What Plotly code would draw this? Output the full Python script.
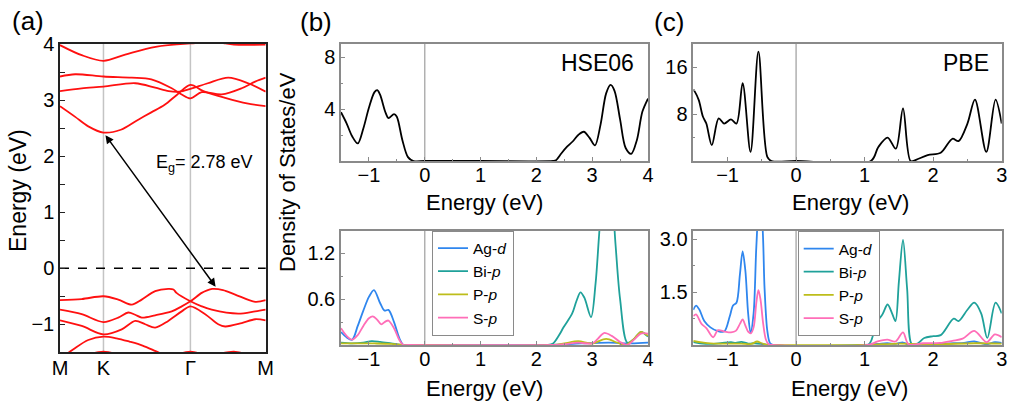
import plotly.graph_objects as go

W, H = 1009, 405
FONT = "Liberation Sans, Arial, sans-serif"

# ---------------- (a) band structure ----------------
KPATH_POS = [0.0, 1.0, 3.0, 4.732]
KPATH_LBL = ["M", "K", "Γ", "M"]

CB1_k = [0, 0.35, 0.65, 1.0, 1.4, 1.8, 2.1, 2.4, 2.7, 3.0, 3.3, 3.8, 4.3, 4.732]
CB1_E = [2.89, 2.70, 2.53, 2.42, 2.47, 2.65, 2.78, 2.91, 3.10, 3.27, 3.16, 3.04, 2.94, 2.89]
CB2_k = [0, 0.35, 1.0, 1.65, 2.1, 2.57, 2.8, 3.0, 3.26, 3.72, 4.18, 4.49, 4.732]
CB2_E = [3.42, 3.46, 3.42, 3.40, 3.37, 3.21, 3.10, 3.03, 3.14, 3.10, 3.21, 3.33, 3.40]
CB3_k = [0, 0.5, 1.0, 1.73, 2.19, 2.5, 2.75, 3.0, 3.4, 3.87, 4.33, 4.732]
CB3_E = [3.16, 3.21, 3.24, 3.30, 3.22, 3.16, 3.15, 3.20, 3.30, 3.40, 3.30, 3.15]
CB4_k = [0, 0.5, 1.0, 1.5, 2.2, 3.0, 3.6, 4.0, 4.732]
CB4_E = [3.98, 3.80, 3.70, 3.81, 3.95, 4.01, 4.03, 3.99, 3.99]

VB1_k = [0, 0.5, 1.0, 1.34, 1.65, 1.88, 2.19, 2.49, 2.61, 2.68, 3.0, 3.26, 3.49, 4.1, 4.49, 4.732]
VB1_E = [-0.57, -0.55, -0.50, -0.56, -0.65, -0.56, -0.41, -0.37, -0.38, -0.44, -0.59, -0.68, -0.74, -0.81, -0.77, -0.74]
VB2_k = [0, 0.5, 1.0, 1.34, 1.57, 1.73, 1.88, 2.19, 2.57, 2.8, 3.0, 3.26, 3.37, 3.5, 3.75, 4.03, 4.49, 4.732]
VB2_E = [-0.74, -0.82, -0.96, -0.88, -0.79, -0.83, -0.88, -0.84, -0.77, -0.68, -0.59, -0.44, -0.40, -0.37, -0.39, -0.47, -0.60, -0.57]
VB3_k = [0, 0.5, 1.0, 1.42, 1.73, 1.96, 2.19, 2.49, 2.8, 3.0, 3.34, 3.64, 3.8, 4.18, 4.49, 4.732]
VB3_E = [-0.93, -1.03, -1.18, -1.09, -0.94, -1.00, -1.06, -0.94, -0.77, -0.68, -0.82, -1.00, -1.04, -0.98, -0.91, -0.93]
VB4_k = [0, 0.3, 0.65, 1.0, 1.3, 1.6, 1.9, 2.2, 2.6, 3.0, 3.5, 4.2, 4.732]
VB4_E = [-1.62, -1.45, -1.28, -1.22, -1.25, -1.31, -1.38, -1.48, -1.62, -1.70, -1.70, -1.65, -1.62]
VB5_k = [0, 0.5, 1.0, 1.5, 2.0, 2.5, 3.0, 3.4, 4.0, 4.4, 4.732]
VB5_E = [-1.68, -1.57, -1.49, -1.57, -1.63, -1.58, -1.49, -1.56, -1.49, -1.56, -1.68]

BANDS = [(CB1_k, CB1_E), (CB2_k, CB2_E), (CB3_k, CB3_E), (CB4_k, CB4_E),
         (VB1_k, VB1_E), (VB2_k, VB2_E), (VB3_k, VB3_E), (VB4_k, VB4_E), (VB5_k, VB5_E)]
GAP_LABEL = "E<sub>g</sub>= 2.78 eV"

# ---------------- (b) HSE06 DOS ----------------
HSE_TOT_E = [-1.5, -1.4, -1.3, -1.2, -1.1, -1.0, -0.9, -0.85, -0.8, -0.7, -0.65, -0.55, -0.5, -0.4, -0.3, -0.2,
             0.0, 1.0, 2.3, 2.35, 2.45, 2.55, 2.65, 2.75, 2.85, 2.95, 3.05, 3.15, 3.25, 3.33, 3.4, 3.5, 3.6, 3.7,
             3.8, 3.9, 4.0]
HSE_TOT_V = [3.75, 2.9, 1.9, 1.35, 2.5, 4.1, 5.3, 5.45, 5.1, 3.7, 3.3, 3.6, 3.4, 1.6, 0.3, 0.0,
             0.0, 0.0, 0.0, 0.05, 0.6, 1.1, 1.5, 2.0, 2.25, 1.8, 1.2, 2.8, 5.2, 5.85, 5.4, 3.2, 1.0, 0.55,
             1.6, 3.8, 4.8]

HSE_AG_E = [-1.5, -1.4, -1.3, -1.2, -1.1, -1.0, -0.91, -0.8, -0.72, -0.65, -0.55, -0.45, -0.38, -0.3,
            2.2, 2.8, 3.3, 3.7, 4.0]
HSE_AG_V = [0.17, 0.10, 0.07, 0.25, 0.45, 0.63, 0.72, 0.55, 0.45, 0.46, 0.30, 0.08, 0.0, 0.0,
            0.0, 0.02, 0.03, 0.02, 0.03]
HSE_BI_E = [-1.5, -1.3, -1.1, -0.95, -0.8, -0.6, -0.4, -0.3, 2.2, 2.3, 2.4, 2.49, 2.64, 2.72, 2.79, 2.86,
            2.98, 3.06, 3.12, 3.18, 3.26, 3.34, 3.42, 3.5, 3.63, 3.75, 3.87, 4.0]
HSE_BI_V = [0.03, 0.02, 0.03, 0.05, 0.04, 0.02, 0.0, 0.0, 0.0, 0.02, 0.12, 0.235, 0.41, 0.58, 0.69, 0.62,
            0.365, 0.8, 1.4, 2.0, 2.4, 2.1, 1.3, 0.6, 0.03, 0.08, 0.17, 0.11]
HSE_P_E = [-1.5, -1.2, -0.9, -0.6, -0.4, -0.3, 2.3, 2.5, 2.75, 3.0, 3.25, 3.45, 3.6, 3.75, 3.87, 4.0]
HSE_P_V = [0.02, 0.02, 0.02, 0.015, 0.0, 0.0, 0.0, 0.02, 0.05, 0.02, 0.08, 0.03, 0.0, 0.08, 0.17, 0.12]
HSE_S_E = [-1.5, -1.4, -1.3, -1.2, -1.1, -1.0, -0.93, -0.85, -0.78, -0.7, -0.65, -0.55, -0.45, -0.38, -0.3,
           2.3, 2.5, 2.75, 3.0, 3.1, 3.21, 3.35, 3.5, 3.63, 3.75, 3.87, 4.0]
HSE_S_V = [0.22, 0.12, 0.07, 0.13, 0.25, 0.35, 0.375, 0.33, 0.27, 0.31, 0.32, 0.22, 0.06, 0.0, 0.0,
           0.0, 0.01, 0.03, 0.02, 0.08, 0.157, 0.12, 0.04, 0.0, 0.07, 0.15, 0.15]

# ---------------- (c) PBE DOS ----------------
PBE_TOT_E = [-1.5, -1.48, -1.42, -1.36, -1.31, -1.23, -1.13, -1.05, -0.95, -0.87, -0.78, -0.665, -0.55,
             -0.42, -0.36, 0.0, 1.09, 1.2, 1.335, 1.455, 1.56, 1.67, 1.75, 1.92, 2.11, 2.28, 2.37, 2.5,
             2.61, 2.775, 2.91, 3.0]
PBE_TOT_V = [12.2, 11.9, 10.4, 7.6, 6.4, 2.7, 7.3, 6.4, 7.1, 6.4, 13.3, 1.55, 18.7,
             0.7, 0.0, 0.0, 0.0, 2.4, 4.0, 2.1, 9.0, 0.0, 0.2, 1.0, 1.4, 3.8, 3.4, 6.4,
             10.5, 1.55, 10.5, 6.4]

PBE_AG_E = [-1.5, -1.46, -1.41, -1.34, -1.25, -1.15, -1.05, -0.97, -0.92, -0.87, -0.82, -0.78, -0.74,
            -0.70, -0.665, -0.62, -0.58, -0.54, -0.50, -0.46, -0.42, -0.38, -0.33,
            1.0, 1.2, 1.33, 1.45, 1.56, 1.65, 2.0, 2.3, 2.45, 2.6, 2.78, 2.9, 3.0]
PBE_AG_V = [1.0, 1.12, 1.0, 0.68, 0.5, 0.4, 0.38, 0.8, 1.12, 1.2, 2.0, 2.66, 2.1,
            0.9, 0.35, 0.9, 2.8, 3.9, 3.6, 1.6, 0.4, 0.05, 0.0,
            0.0, 0.03, 0.05, 0.03, 0.07, 0.0, 0.02, 0.05, 0.06, 0.1, 0.02, 0.08, 0.06]
PBE_BI_E = [-1.5, -1.4, -1.25, -1.1, -0.95, -0.88, -0.8, -0.7, -0.6, -0.5, -0.4, -0.35,
            1.05, 1.16, 1.26, 1.335, 1.4, 1.45, 1.5, 1.56, 1.62, 1.69, 1.78, 1.87, 2.0, 2.11, 2.3,
            2.37, 2.5, 2.6, 2.7, 2.79, 2.91, 3.0]
PBE_BI_V = [0.08, 0.05, 0.03, 0.05, 0.08, 0.06, 0.09, 0.04, 0.05, 0.03, 0.0, 0.0,
            0.0, 0.59, 0.87, 1.15, 0.9, 0.68, 1.8, 2.98, 1.6, 0.02, 0.05, 0.2, 0.25, 0.28, 0.75,
            0.68, 1.0, 1.2, 0.9, 0.2, 1.2, 0.9]
PBE_P_E = [-1.5, -1.4, -1.2, -1.0, -0.8, -0.65, -0.57, -0.5, -0.4, -0.35, 1.0, 1.5, 2.0, 2.6, 3.0]
PBE_P_V = [0.12, 0.08, 0.04, 0.04, 0.04, 0.03, 0.1, 0.05, 0.0, 0.0, 0.0, 0.04, 0.02, 0.05, 0.04]
PBE_S_E = [-1.5, -1.46, -1.38, -1.31, -1.21, -1.14, -1.04, -0.95, -0.88, -0.82, -0.78, -0.74, -0.70,
           -0.66, -0.62, -0.58, -0.55, -0.52, -0.48, -0.44, -0.40, -0.35,
           1.05, 1.19, 1.33, 1.45, 1.56, 1.64, 1.85, 2.1, 2.28, 2.43, 2.6, 2.78, 2.9, 3.0]
PBE_S_V = [0.82, 0.87, 0.6, 0.48, 0.22, 0.42, 0.38, 0.36, 0.4, 0.6, 0.73, 0.55, 0.38,
           0.33, 0.5, 1.2, 1.56, 1.3, 0.6, 0.15, 0.02, 0.0,
           0.0, 0.1, 0.15, 0.1, 0.36, 0.02, 0.05, 0.06, 0.12, 0.18, 0.4, 0.08, 0.3, 0.22]

ORBITALS = ["Ag-<i>d</i>", "Bi-<i>p</i>", "P-<i>p</i>", "S-<i>p</i>"]
COLORS = ["#2F86EE", "#1FA19A", "#BDBD1A", "#FF6EB8"]

# ---------------- figure ----------------
def px(xp):
    return xp / W

def py(yp):
    return 1 - yp / H

fig = go.Figure()

for k, e in BANDS:
    fig.add_trace(go.Scatter(x=k, y=e, mode="lines", xaxis="x", yaxis="y",
                             line=dict(color="#FF1010", width=1.8, shape="spline", smoothing=0.9),
                             showlegend=False, hoverinfo="skip"))

fig.add_trace(go.Scatter(x=HSE_TOT_E, y=HSE_TOT_V, mode="lines", xaxis="x2", yaxis="y2",
                         line=dict(color="black", width=1.8, shape="spline", smoothing=0.9),
                         showlegend=False))
fig.add_trace(go.Scatter(x=PBE_TOT_E, y=PBE_TOT_V, mode="lines", xaxis="x4", yaxis="y4",
                         line=dict(color="black", width=1.8, shape="spline", smoothing=0.9),
                         showlegend=False))

hse_p = [(HSE_AG_E, HSE_AG_V), (HSE_BI_E, HSE_BI_V), (HSE_P_E, HSE_P_V), (HSE_S_E, HSE_S_V)]
pbe_p = [(PBE_AG_E, PBE_AG_V), (PBE_BI_E, PBE_BI_V), (PBE_P_E, PBE_P_V), (PBE_S_E, PBE_S_V)]
for i, (e, v) in enumerate(hse_p):
    fig.add_trace(go.Scatter(x=e, y=v, mode="lines", xaxis="x3", yaxis="y3", name=ORBITALS[i],
                             line=dict(color=COLORS[i], width=1.8, shape="spline", smoothing=0.9),
                             legend="legend"))
for i, (e, v) in enumerate(pbe_p):
    fig.add_trace(go.Scatter(x=e, y=v, mode="lines", xaxis="x5", yaxis="y5", name=ORBITALS[i],
                             line=dict(color=COLORS[i], width=1.8, shape="spline", smoothing=0.9),
                             legend="legend2"))

TICKF = dict(family=FONT, size=20, color="black")
GRAY = "#8a8a8a"

def dos_x(domain, rng, anchor):
    return dict(domain=domain, range=rng, anchor=anchor, showline=True, mirror=True, linecolor=GRAY,
                linewidth=1.5, ticks="inside", tickcolor=GRAY, ticklen=4, dtick=1, tick0=0,
                minor=dict(dtick=0.5, ticks="inside", ticklen=2, tickcolor=GRAY),
                showgrid=False, zeroline=False, tickfont=TICKF, ticklabelstandoff=-5)

def dos_y(domain, rng, anchor, vals, mdt, fmt):
    return dict(domain=domain, range=rng, anchor=anchor, showline=True, mirror=True, linecolor=GRAY,
                linewidth=1.5, ticks="inside", tickcolor=GRAY, ticklen=4, tickvals=vals,
                minor=dict(dtick=mdt, tick0=0, ticks="inside", ticklen=2, tickcolor=GRAY),
                showgrid=False, zeroline=False, tickfont=TICKF, tickformat=fmt)

xa_b = [px(341), px(648)]
xa_c = [px(693.3), px(1001.7)]
ya_top = [py(161), py(44)]
ya_bot = [py(345), py(230.5)]

LEGF = dict(family=FONT, size=15.5)

fig.update_layout(
    width=W, height=H, autosize=False,
    margin=dict(l=0, r=0, t=0, b=0, pad=0, autoexpand=False),
    paper_bgcolor="white", plot_bgcolor="white",
    font=dict(family=FONT, color="black"),
    xaxis=dict(domain=[px(60), px(265.7)], range=[KPATH_POS[0], KPATH_POS[-1]], anchor="y",
               showline=True, mirror=True, linecolor="#222", linewidth=1.5,
               tickvals=KPATH_POS, ticktext=KPATH_LBL, ticks="", showgrid=False, zeroline=False,
               tickfont=TICKF, ticklabelstandoff=-3),
    yaxis=dict(domain=[py(352.3), py(44)], range=[-1.5, 4], anchor="x",
               showline=True, mirror=True, linecolor="#222", linewidth=1.5,
               ticks="inside", ticklen=5, tickcolor="#222", dtick=1, tick0=0,
               minor=dict(dtick=0.5, ticks="inside", ticklen=5, tickcolor="#222"),
               showgrid=False, zeroline=False, tickfont=TICKF),
    xaxis2=dos_x(xa_b, [-1.5, 4], "y2"),
    yaxis2=dos_y(ya_top, [0, 9], "x2", [4, 8], 2, "d"),
    xaxis3=dos_x(xa_b, [-1.5, 4], "y3"),
    yaxis3=dos_y(ya_bot, [0, 1.5], "x3", [0.6, 1.2], 0.3, ".1f"),
    xaxis4=dos_x(xa_c, [-1.5, 3], "y4"),
    yaxis4=dos_y(ya_top, [0, 20], "x4", [8, 16], 4, "d"),
    xaxis5=dos_x(xa_c, [-1.5, 3], "y5"),
    yaxis5=dos_y(ya_bot, [0, 3.25], "x5", [1.5, 3.0], 0.75, ".1f"),
    legend=dict(x=px(432), y=py(230.5), xanchor="left", yanchor="top", bgcolor="white",
                bordercolor=GRAY, borderwidth=1, font=LEGF, tracegroupgap=0),
    legend2=dict(x=px(797.7), y=py(231), xanchor="left", yanchor="top", bgcolor="white",
                 bordercolor=GRAY, borderwidth=1, font=LEGF, tracegroupgap=0),
)

shapes = []
for kp in KPATH_POS[1:3]:
    shapes.append(dict(type="line", xref="x", yref="y domain", x0=kp, x1=kp, y0=0, y1=1,
                       line=dict(color="#c4c4c4", width=1.5), layer="below"))
shapes.append(dict(type="line", xref="x domain", yref="y", x0=0, x1=1, y0=0, y1=0,
                   line=dict(color="black", width=1.5, dash="dash"), layer="below"))
for xr, yr in [("x2", "y2"), ("x3", "y3"), ("x4", "y4"), ("x5", "y5")]:
    shapes.append(dict(type="line", xref=xr, yref=yr + " domain", x0=0, x1=0, y0=0, y1=1,
                       line=dict(color="#b0b0b0", width=1.5), layer="below"))
fig.update_layout(shapes=shapes)

# gap arrow from CBM to VBM (taken from the band data)
cbm_E = min(CB1_E)
cbm_k = CB1_k[CB1_E.index(cbm_E)]
vbm_E = max(VB2_E)
vbm_k = VB2_k[VB2_E.index(vbm_E)]

ann = []
ann.append(dict(x=vbm_k + 0.08, y=vbm_E + 0.04, ax=cbm_k + 0.02, ay=cbm_E - 0.02,
                xref="x", yref="y", axref="x", ayref="y", text="", showarrow=True,
                arrowhead=2, startarrowhead=2, arrowside="end+start", arrowsize=1.1,
                startarrowsize=1.1, arrowwidth=1.5, arrowcolor="black"))
ann.append(dict(x=px(204), y=py(163), xref="paper", yref="paper", text=GAP_LABEL, showarrow=False,
                font=dict(family=FONT, size=18), xanchor="center", yanchor="middle"))

def label(text, xp, yp, size, angle=0):
    return dict(x=px(xp), y=py(yp), xref="paper", yref="paper", text=text, showarrow=False,
                font=dict(family=FONT, size=size, color="black"), xanchor="center",
                yanchor="middle", textangle=angle)

ann += [
    label("(a)", 28, 21, 26), label("(b)", 316, 22, 26), label("(c)", 669, 22, 26),
    label("Energy (eV)", 18, 191, 23, -90),
    label("Density of States/eV", 287, 172, 22, -90),
    label("Energy (eV)", 484, 202, 22), label("Energy (eV)", 484, 388, 22),
    label("Energy (eV)", 850, 202, 22), label("Energy (eV)", 849, 388, 22),
    label("HSE06", 597, 63, 23), label("PBE", 966, 63, 23),
]
fig.update_layout(annotations=ann)

fig.write_html("out.html", config={"displayModeBar": False},
               post_script="document.body.style.margin='0';document.body.style.overflow='hidden';")
